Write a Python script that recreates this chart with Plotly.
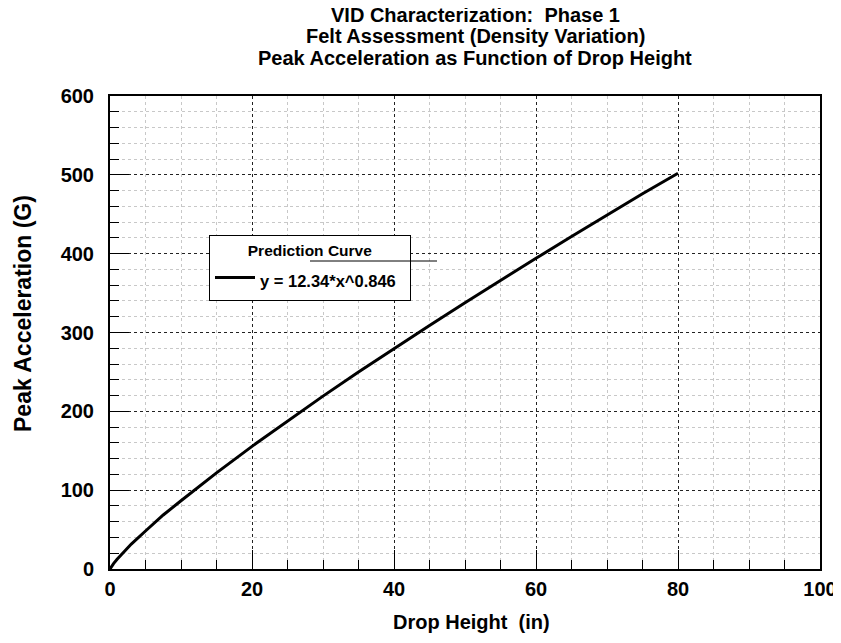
import plotly.graph_objects as go

# Values (prediction curve)
drop_height = [0, 0.25, 0.5, 1, 2, 3, 5, 7.5, 10, 15, 20, 25, 30, 35, 40, 45, 50, 55, 60, 65, 70, 75, 80]
peak_accel = [0, 3.8, 6.9, 12.3, 22.2, 31.6, 48.2, 68.5, 86.6, 122.0, 155.6, 187.9, 219.3, 249.8, 279.7,
              309.0, 337.8, 366.2, 394.1, 421.7, 448.9, 476.0, 502.0]

series_name = "y = 12.34*x^0.846"
legend_title = "Prediction Curve"
title_lines = ["VID Characterization:\u00a0\u00a0Phase 1",
               "Felt Assessment (Density Variation)",
               "Peak Acceleration as Function of Drop Height"]
x_title = "Drop Height\u00a0\u00a0(in)"
y_title = "Peak Acceleration (G)"

FONT = "Liberation Sans, Arial, sans-serif"

fig = go.Figure()
fig.add_trace(go.Scatter(x=drop_height, y=peak_accel, mode="lines",
                         name="<span style='font-size:16.5px'>" + series_name + "\u00a0\u00a0</span>",
                         line=dict(color="black", width=3), showlegend=True))

axis_common = dict(
    showline=True, linecolor="black", linewidth=2, mirror=True,
    zeroline=False,
    ticks="inside", ticklen=19, tickwidth=1, tickcolor="black",
    showgrid=True, gridcolor="#222222", griddash="dot", gridwidth=1,
    tickfont=dict(family=FONT, size=20, color="black", weight="bold"),
)

fig.update_xaxes(**axis_common, range=[0, 100], dtick=20, tick0=0, ticklabelstandoff=1,
                 minor=dict(dtick=5, ticks="inside", ticklen=9, tickcolor="black",
                            showgrid=True, gridcolor="#c8c8c8", griddash="dot", gridwidth=1))
fig.update_yaxes(**axis_common, range=[0, 600], dtick=100, tick0=0, ticklabelstandoff=10,
                 minor=dict(dtick=20, ticks="inside", ticklen=9, tickcolor="black",
                            showgrid=True, gridcolor="#c8c8c8", griddash="dot", gridwidth=1))

annotations = []
for text, shift in zip(title_lines, [81, 60, 38]):
    annotations.append(dict(text=text, xref="paper", yref="paper", x=(475 - 110) / 710, y=1,
                            xanchor="center", yanchor="middle", yshift=shift, showarrow=False,
                            font=dict(family=FONT, size=20, color="black", weight="bold")))
annotations.append(dict(text=x_title, xref="paper", yref="paper", x=(471.5 - 110) / 710, y=0,
                        xanchor="center", yanchor="middle", yshift=-53, showarrow=False,
                        font=dict(family=FONT, size=20, color="black", weight="bold")))
annotations.append(dict(text=y_title, xref="paper", yref="paper", x=0, y=(569 - 314) / 473,
                        xanchor="center", yanchor="middle", xshift=-87, textangle=-90, showarrow=False,
                        font=dict(family=FONT, size=23, color="black", weight="bold")))

# legend box geometry (page pixels) -> paper coordinates
lx0, lx1, ly0, ly1 = 209, 410, 235, 300
px = lambda v: (v - 110) / 710
py = lambda v: (569 - v) / 473

fig.update_layout(
    width=833, height=635,
    margin=dict(l=102, r=21, t=88, b=74, autoexpand=False),
    paper_bgcolor="white", plot_bgcolor="white",
    font=dict(family=FONT, color="black"),
    annotations=annotations,
    legend=dict(x=px(lx0), y=py(ly0), xanchor="left", yanchor="top",
                bgcolor="rgba(0,0,0,0)", bordercolor="black", borderwidth=1,
                title=dict(text=legend_title, side="top center",
                           font=dict(family=FONT, size=15.5, color="black", weight="bold")),
                font=dict(family=FONT, size=23, color="black", weight="bold"),
                itemwidth=40),
    shapes=[
        dict(type="rect", xref="paper", yref="paper", x0=px(lx0), x1=px(lx1), y0=py(ly1), y1=py(ly0),
             fillcolor="white", line=dict(width=0), layer="above"),
        dict(type="line", xref="paper", yref="paper", x0=px(310), x1=px(437), y0=py(261), y1=py(261),
             line=dict(color="black", width=1), layer="above"),
    ],
)

fig.write_html("out.html")
